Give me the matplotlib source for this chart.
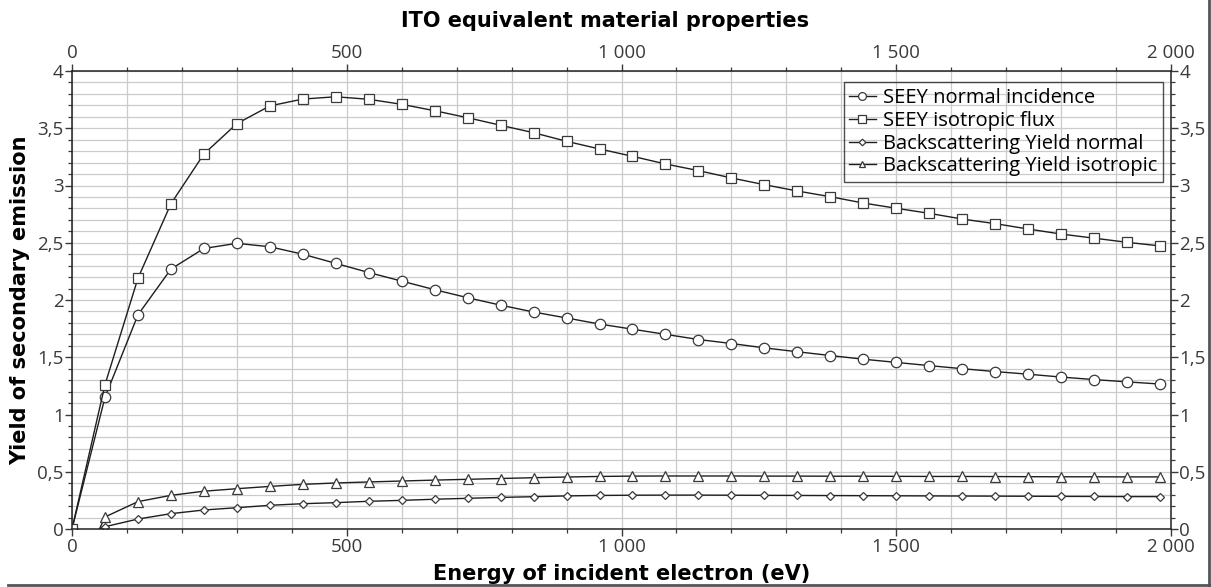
import matplotlib
matplotlib.use("Agg")
import matplotlib.pyplot as plt
from matplotlib.ticker import MultipleLocator, FuncFormatter
from matplotlib.lines import Line2D

# ── Datos ────────────────────────────────────────────────────────────────────
energy = list(range(0, 1981, 60))          # eV, puntos con marcador

seey_normal = [0.0, 1.15, 1.87, 2.27, 2.45, 2.495, 2.465, 2.40, 2.32, 2.24,
               2.165, 2.09, 2.02, 1.955, 1.895, 1.843, 1.79, 1.745, 1.70, 1.655,
               1.62, 1.582, 1.548, 1.515, 1.483, 1.455, 1.427, 1.40, 1.375, 1.352,
               1.327, 1.305, 1.285, 1.266]

seey_iso = [0.0, 1.26, 2.19, 2.84, 3.275, 3.54, 3.695, 3.755, 3.775, 3.753,
            3.709, 3.653, 3.592, 3.526, 3.461, 3.386, 3.319, 3.255, 3.188, 3.13,
            3.066, 3.007, 2.952, 2.902, 2.847, 2.801, 2.757, 2.707, 2.667, 2.62,
            2.576, 2.54, 2.504, 2.472]

# retrodispersión: empieza en 50 eV
bs_energy = [50] + energy[1:]
bs_normal = [0.0, 0.02, 0.087, 0.134, 0.166, 0.186, 0.207, 0.221, 0.230, 0.242,
             0.250, 0.260, 0.268, 0.276, 0.282, 0.289, 0.293, 0.295, 0.296, 0.296,
             0.295, 0.294, 0.293, 0.292, 0.291, 0.290, 0.289, 0.288, 0.287, 0.286,
             0.285, 0.284, 0.283, 0.283]
bs_iso = [0.0, 0.105, 0.239, 0.294, 0.330, 0.352, 0.372, 0.390, 0.402, 0.411,
          0.419, 0.427, 0.434, 0.441, 0.448, 0.454, 0.459, 0.462, 0.463, 0.463,
          0.463, 0.462, 0.462, 0.461, 0.461, 0.460, 0.459, 0.459, 0.458, 0.457,
          0.456, 0.456, 0.455, 0.455]

labels = ["SEEY normal incidence", "SEEY isotropic flux",
          "Backscattering Yield normal", "Backscattering Yield isotropic"]

# ── Figura ───────────────────────────────────────────────────────────────────
plt.rcParams["font.family"] = ["Open Sans", "DejaVu Sans"]
BOLD = dict(family="DejaVu Sans", fontweight="bold")

fig = plt.figure(figsize=(12.11, 5.87), dpi=100)
ax = fig.add_axes([72 / 1211, 1 - 529 / 587, 1099 / 1211, 458 / 587])

LINE = "#1e1e1e"
MARK = "#3a3a3a"
common = dict(color=LINE, lw=1.0, mec=MARK, mfc="white", mew=0.9)

ax.plot(energy, seey_normal, marker="o", ms=7.5, label=labels[0], **common)
ax.plot(energy, seey_iso, marker="s", ms=7, label=labels[1], **common)
ax.plot(bs_energy, bs_normal, marker="D", ms=4.5, markevery=slice(1, None),
        label=labels[2], **common)
ax.plot(bs_energy, bs_iso, marker="^", ms=6.5, markevery=slice(1, None),
        label=labels[3], **common)

ax.set_xlim(0, 2000)
ax.set_ylim(0, 4)

ax.xaxis.set_major_locator(MultipleLocator(500))
ax.xaxis.set_minor_locator(MultipleLocator(100))
ax.yaxis.set_major_locator(MultipleLocator(0.5))
ax.yaxis.set_minor_locator(MultipleLocator(0.1))

ax.xaxis.set_major_formatter(FuncFormatter(lambda v, p: f"{int(v):,}".replace(",", " ")))
ax.yaxis.set_major_formatter(FuncFormatter(lambda v, p: f"{v:g}".replace(".", ",")))

ax.grid(True, which="both", color="#cbcbcb", lw=0.9)
ax.set_axisbelow(True)

ax.tick_params(which="both", direction="out", top=True, right=True,
               labeltop=True, labelright=True, colors="#3a3a3a",
               labelsize=13.5, pad=1.5)
ax.tick_params(which="major", length=5, width=1)
ax.tick_params(which="minor", length=3, width=0.9)
ax.tick_params(axis="y", which="major", right=True, pad=1)

for s in ax.spines.values():
    s.set_color("#222222")
    s.set_linewidth(1.1)

fig.text(0.5, 1 - 21 / 587, "ITO equivalent material properties",
         ha="center", va="center", fontsize=15, **BOLD)
ax.set_xlabel("Energy of incident electron (eV)", fontsize=15, labelpad=6, **BOLD)
ax.set_ylabel("Yield of secondary emission", fontsize=15, labelpad=5, **BOLD)

leg = ax.legend(loc="upper right", bbox_to_anchor=(0.996, 0.984),
                fontsize=14.5, handlelength=1.3, handletextpad=0.35,
                labelspacing=0.14, borderpad=0.28, borderaxespad=0.2,
                markerscale=0.75, fancybox=False)
leg.get_frame().set_facecolor("none")
leg.get_frame().set_edgecolor("#222222")
leg.get_frame().set_linewidth(1.0)

# marco inferior y derecho de la imagen
fig.add_artist(Line2D([8 / 1211, 1], [2 / 587, 2 / 587], color="#555555",
                      lw=2, transform=fig.transFigure))
fig.add_artist(Line2D([1209 / 1211, 1209 / 1211], [0, 1], color="#555555",
                      lw=2, transform=fig.transFigure))

fig.savefig("out.png", dpi=100)
